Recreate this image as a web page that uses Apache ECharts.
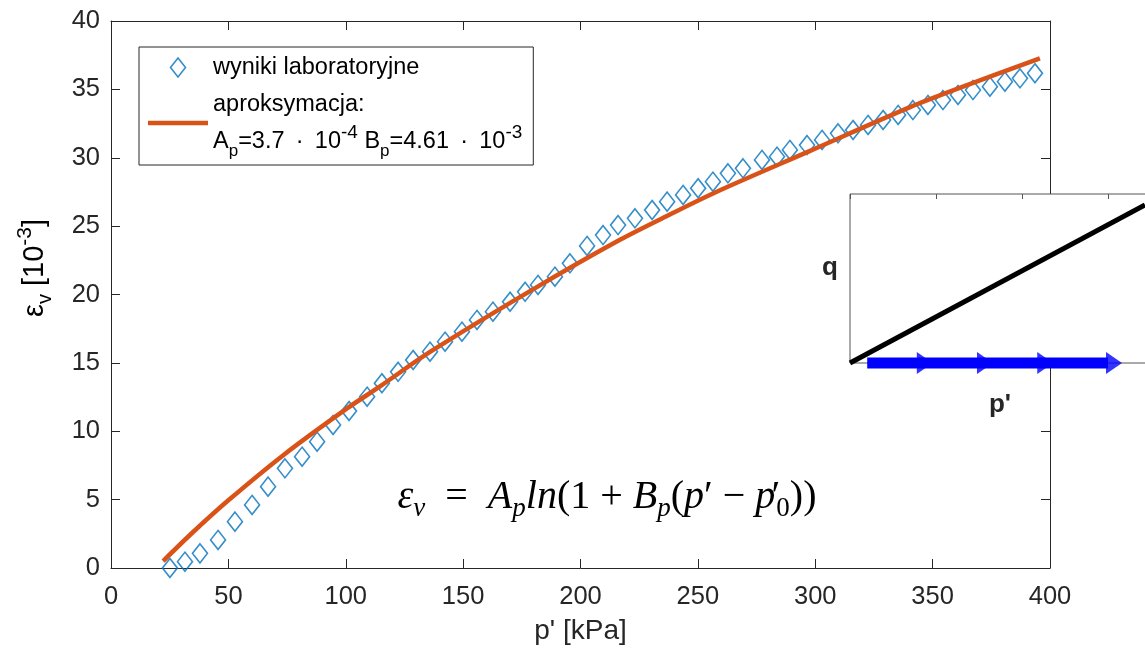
<!DOCTYPE html>
<html><head><meta charset="utf-8">
<script src="https://cdn.jsdelivr.net/npm/echarts@6/dist/echarts.min.js"></script>
<style>html,body{margin:0;padding:0;background:#fff}#c{width:1145px;height:648px}</style>
</head><body><div id="c"></div>
<script>
// Laboratory results (p' [kPa], eps_v [1e-3])
const labP = [25.1, 31.5, 37.9, 45.6, 52.8, 60.1, 66.9, 74.1, 81.4, 87.8, 94.6, 101.4, 109.1, 115.4, 122.3, 128.7, 135.9, 142.3, 149.5, 155.9, 162.7, 170.0, 176.4, 181.9, 189.1, 195.5, 202.8, 209.6, 216.0, 223.2, 230.5, 236.9, 243.7, 250.1, 256.4, 262.8, 269.2, 277.3, 283.7, 289.2, 296.5, 302.9, 309.7, 316.1, 322.5, 328.9, 335.3, 341.6, 348.0, 354.4, 360.8, 367.2, 374.4, 380.8, 387.2, 393.6];
const labEps = [0.0, 0.46, 1.07, 2.05, 3.39, 4.61, 5.95, 7.29, 8.14, 9.24, 10.46, 11.48, 12.53, 13.51, 14.35, 15.21, 15.82, 16.55, 17.28, 18.14, 18.74, 19.47, 20.20, 20.70, 21.30, 22.28, 23.55, 24.35, 25.08, 25.57, 26.18, 26.79, 27.28, 27.77, 28.25, 28.86, 29.23, 29.84, 30.08, 30.57, 30.93, 31.30, 31.79, 32.03, 32.40, 32.76, 33.13, 33.49, 33.86, 34.22, 34.59, 34.95, 35.20, 35.56, 35.81, 36.18];
// Approximation curve
const fitP = [22.2, 35.1, 50.0, 73.4, 100.4, 114.6, 135.9, 178.5, 216.8, 238.1, 259.4, 297.8, 340.4, 363.8, 395.7];
const fitEps = [0.51, 2.65, 4.95, 8.25, 11.65, 13.28, 15.80, 20.25, 24.00, 25.85, 27.62, 30.50, 33.70, 35.25, 37.27];
// Axis ranges / ticks
const xMin = 0, xMax = 400, xStep = 50;
const yMin = 0, yMax = 40, yStep = 5;
// Inset (stress path q - p')
const insetLineP = [0, 3.43];
const insetLineQ = [0, 0.935];
const insetPathP = [0.2, 3.0];
const insetPathQ = [0, 0];
const insetArrowP = [0.87, 1.57, 2.27, 3.07];
const insetArrowQ = [0, 0, 0, 0];

const SANS = '"Liberation Sans", Arial, sans-serif';
const SERIF = '"Liberation Serif", "DejaVu Serif", serif';
const AX = '#262626';

const chart = echarts.init(document.getElementById('c'), null, {renderer: 'canvas'});

const zip = (a, b) => a.map((v, i) => [v, b[i]]);

const mainAxisCommon = () => ({
  axisLine: {show: true, onZero: false, lineStyle: {color: AX, width: 1}},
  axisTick: {show: true, inside: true, length: 9, lineStyle: {color: AX, width: 1}},
  splitLine: {show: false},
  z: 0
});

const option = {
  animation: false,
  backgroundColor: '#fff',
  grid: [
    {left: 111, top: 21, width: 939, height: 547, show: false, outerBoundsMode: 'none', containLabel: false},
    {left: 850, top: 194, width: 430, height: 169, show: true, backgroundColor: '#fff', borderColor: '#555', borderWidth: 1, z: 10, outerBoundsMode: 'none', containLabel: false}
  ],
  xAxis: [
    Object.assign({gridIndex: 0, type: 'value', min: xMin, max: xMax, interval: xStep, position: 'bottom',
      axisLabel: {color: AX, fontSize: 25.5, fontFamily: SANS, margin: 16},
      name: "p' [kPa]", nameLocation: 'middle', nameGap: 49,
      nameTextStyle: {color: AX, fontSize: 28, fontFamily: SANS}}, mainAxisCommon()),
    Object.assign({gridIndex: 0, type: 'value', min: xMin, max: xMax, interval: xStep, position: 'top',
      axisLabel: {show: false}}, mainAxisCommon()),
    {gridIndex: 1, type: 'value', min: 0, max: 5, interval: 1, position: 'top',
      axisLine: {show: false, onZero: false}, axisLabel: {show: false}, splitLine: {show: false},
      axisTick: {show: true, inside: true, length: 5, lineStyle: {color: '#555'}}, z: 11}
  ],
  yAxis: [
    Object.assign({gridIndex: 0, type: 'value', min: yMin, max: yMax, interval: yStep, position: 'left',
      axisLabel: {color: AX, fontSize: 25.5, fontFamily: SANS, margin: 11}}, mainAxisCommon()),
    Object.assign({gridIndex: 0, type: 'value', min: yMin, max: yMax, interval: yStep, position: 'right',
      axisLabel: {show: false}}, mainAxisCommon()),
    {gridIndex: 1, type: 'value', min: 0, max: 1, axisLine: {show: false, onZero: false}, axisTick: {show: false},
      axisLabel: {show: false}, splitLine: {show: false}, z: 11}
  ],
  legend: {
    left: 139, top: 47, orient: 'vertical',
    itemWidth: 60, itemHeight: 19, itemGap: 0, itemTextGap: 7,
    padding: [2, 11, 5, 9],
    borderColor: AX, borderWidth: 1, backgroundColor: '#fff',
    textStyle: {color: '#000', fontSize: 23.5, fontFamily: SANS, lineHeight: 37,
      rich: {
        n: {fontSize: 23.5, fontFamily: SANS, color: '#000', lineHeight: 37},
        sub: {fontSize: 17, fontFamily: SANS, color: '#000', verticalAlign: 'bottom', lineHeight: 17},
        sup: {fontSize: 19, fontFamily: SANS, color: '#000', verticalAlign: 'top', lineHeight: 19}
      }},
    data: [
      {name: 'wyniki laboratoryjne', icon: 'path://M0,-19L15,0L0,19L-15,0Z',
        itemStyle: {color: 'rgba(0,0,0,0)', borderColor: '#0072BD', borderWidth: 1.6}},
      {name: 'aproksymacja', icon: 'path://M0,0L60,0L60,4.5L0,4.5Z',
        itemStyle: {color: '#D95319', borderWidth: 0}}
    ],
    formatter: function (name) {
      if (name === 'aproksymacja') {
        return 'aproksymacja:\n{n|A}{sub|p}{n|=3.7\u2009 · \u200910}{sup|-4}{n| B}{sub|p}{n|=4.61\u2009 · \u200910}{sup|-3}';
      }
      return name;
    }
  },
  series: [
    {name: 'wyniki laboratoryjne', type: 'scatter', xAxisIndex: 0, yAxisIndex: 0,
      data: zip(labP, labEps), symbol: 'diamond', symbolSize: [15, 19],
      itemStyle: {color: 'rgba(0,0,0,0)', borderColor: '#0072BD', borderWidth: 1.6}, z: 3},
    {name: 'aproksymacja', type: 'line', xAxisIndex: 0, yAxisIndex: 0,
      data: zip(fitP, fitEps), smooth: 0.3, symbol: 'none', showSymbol: false,
      lineStyle: {color: '#D95319', width: 4.5}, itemStyle: {color: '#D95319'}, z: 4},
    {name: 'inset-line', type: 'line', xAxisIndex: 2, yAxisIndex: 2,
      data: zip(insetLineP, insetLineQ), symbol: 'none', lineStyle: {color: '#000', width: 5}, z: 12, clip: false},
    {name: 'inset-path', type: 'line', xAxisIndex: 2, yAxisIndex: 2,
      data: zip(insetPathP, insetPathQ), symbol: 'none', lineStyle: {color: '#0000FF', width: 11, cap: 'butt'}, z: 13, clip: false},
    {name: 'inset-arrows', type: 'scatter', xAxisIndex: 2, yAxisIndex: 2,
      data: zip(insetArrowP, insetArrowQ), symbol: 'triangle', symbolSize: [22, 16], symbolRotate: -90,
      itemStyle: {color: '#0000FF'}, z: 14, clip: false}
  ],
  graphic: [
    {type: 'text', x: 35, y: 268, rotation: Math.PI / 2, z: 20,
      style: {text: '{n|ε}{s|v}{n| [10}{p|-3}{n|]}', align: 'center', verticalAlign: 'middle',
        rich: {
          n: {fontSize: 29, fontFamily: SANS, color: AX, lineHeight: 40},
          s: {fontSize: 20, fontFamily: SANS, color: AX, verticalAlign: 'bottom', lineHeight: 20},
          p: {fontSize: 21, fontFamily: SANS, color: AX, verticalAlign: 'top', lineHeight: 21}
        }}},
    {type: 'text', x: 607, y: 497, z: 20,
      style: {text: '{i|ε}{s|v}{n|  =  }{i|A}{s|p}{i|ln}{n|(1 + }{i|B}{s|p}{n|(}{i|p}{n|′ − }{i|p}{pr|′}{s0|0}{n|))}',
        align: 'center', verticalAlign: 'middle',
        rich: {
          n: {fontSize: 40, fontFamily: SERIF, color: '#000', lineHeight: 50},
          i: {fontSize: 40, fontFamily: SERIF, fontStyle: 'italic', color: '#000', lineHeight: 50},
          s: {fontSize: 27, fontFamily: SERIF, fontStyle: 'italic', color: '#000', verticalAlign: 'bottom', lineHeight: 34},
          s0: {fontSize: 27, fontFamily: SERIF, color: '#000', verticalAlign: 'bottom', lineHeight: 34},
          pr: {fontSize: 40, fontFamily: SERIF, color: '#000', lineHeight: 50, width: 1}
        }}},
    {type: 'text', x: 830, y: 268, z: 30,
      style: {text: 'q', align: 'center', verticalAlign: 'middle', fontSize: 26, fontWeight: 'bold', fontFamily: SANS, fill: '#262626'}},
    {type: 'text', x: 1000, y: 405, z: 30,
      style: {text: "p'", align: 'center', verticalAlign: 'middle', fontSize: 26, fontWeight: 'bold', fontFamily: SANS, fill: '#262626'}}
  ]
};
chart.setOption(option);
</script>
</body></html>
